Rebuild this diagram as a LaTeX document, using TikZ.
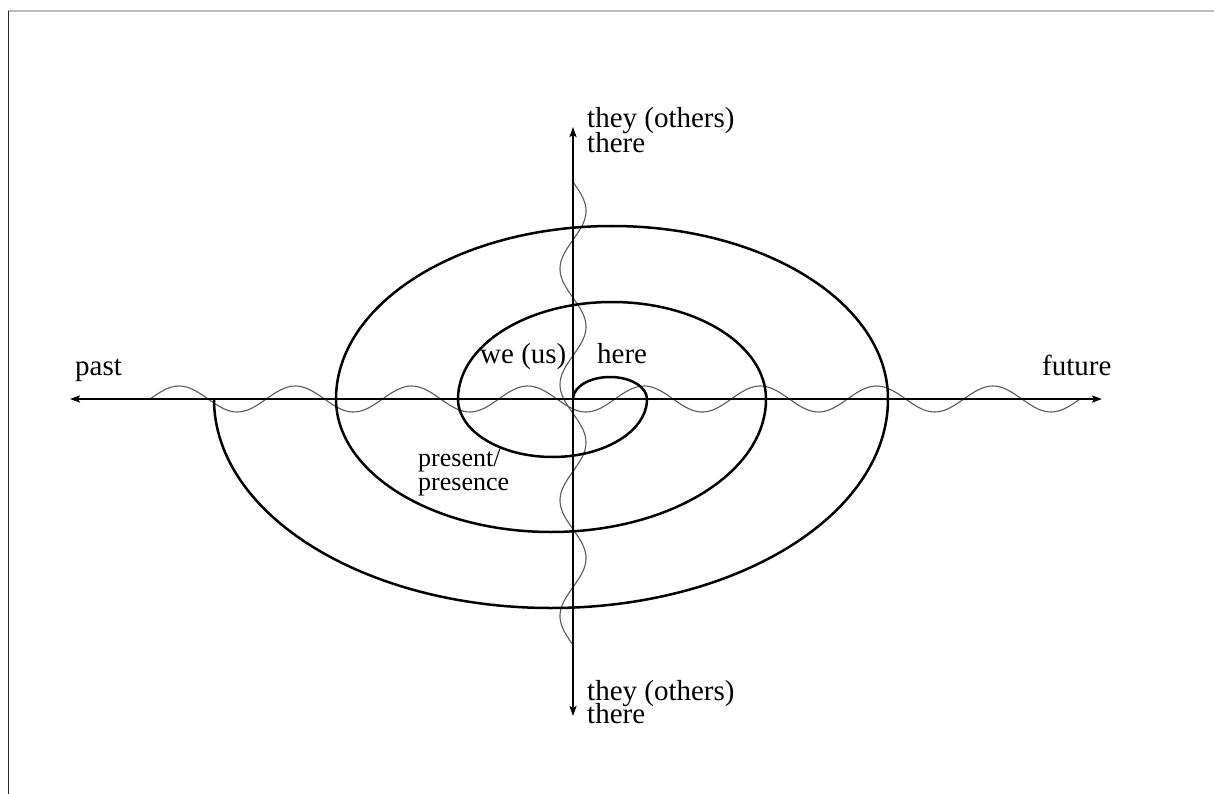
\documentclass[tikz,border=0pt]{standalone}
\usepackage{fontspec}
\setmainfont{Liberation Serif}
\usetikzlibrary{arrows.meta}
\tikzset{
  axisline/.style={line width=1.9pt, black, -{Stealth[length=10pt,width=7pt,inset=2pt]}},
  spiralline/.style={line width=2.5pt, black},
  waveline/.style={line width=1.1pt, black!65},
  biglabel/.style={inner sep=0pt, anchor=base west, font=\fontsize{29}{29}\selectfont},
  smalllabel/.style={inner sep=0pt, anchor=base west, font=\fontsize{26}{26}\selectfont},
}
\begin{document}
\begin{tikzpicture}[x=1pt,y=1pt]
\useasboundingbox (0,0) rectangle (1214,-794);
% frame
\draw[gray!55, line width=1.2pt] (8,-11) -- (1214,-11);
\draw[black!85, line width=1.6pt] (8.6,-11) -- (8.6,-794);
% coordinates
\coordinate (O) at (573,-399);
\coordinate (W) at (70,-399);
\coordinate (E) at (1102,-399);
\coordinate (N) at (573,-127);
\coordinate (S) at (573,-716);
% waves
\draw[waveline] plot[domain=0:930, samples=300, smooth] ({150+\x}, {-399 + 13*sin(\x*3.0968)});
\draw[waveline] plot[domain=0:463, samples=200, smooth] ({573 + 13*sin(\x*3.1102)}, {-182-\x});
% axes
\draw[axisline] (O) -- (W);
\draw[axisline] (O) -- (E);
\draw[axisline] (O) -- (N);
\draw[axisline] (O) -- (S);
% spiral
\draw[spiralline] (O)
  arc[start angle=180, end angle=0, x radius=37pt, y radius=22pt]
  arc[start angle=0, end angle=-180, x radius=94.5pt, y radius=58pt]
  arc[start angle=180, end angle=0, x radius=154pt, y radius=97pt]
  arc[start angle=0, end angle=-180, x radius=215pt, y radius=133pt]
  arc[start angle=180, end angle=0, x radius=276pt, y radius=173pt]
  arc[start angle=0, end angle=-180, x radius=337pt, y radius=209pt];
% labels
\node[biglabel] (past) at (75,-375) {past};
\node[biglabel] (future) at (1042,-375) {future};
\node[biglabel] (topthey) at (587,-128) {they (others)};
\node[biglabel] (topthere) at (587,-153) {there};
\node[biglabel] (botthey) at (587,-700) {they (others)};
\node[biglabel] (botthere) at (587,-723) {there};
\node[biglabel] (we) at (480,-363) {we (us)};
\node[biglabel] (here) at (597,-363) {here};
\node[smalllabel] (present) at (418,-466) {present/};
\node[smalllabel] (presence) at (418,-490) {presence};
\end{tikzpicture}
\end{document}
